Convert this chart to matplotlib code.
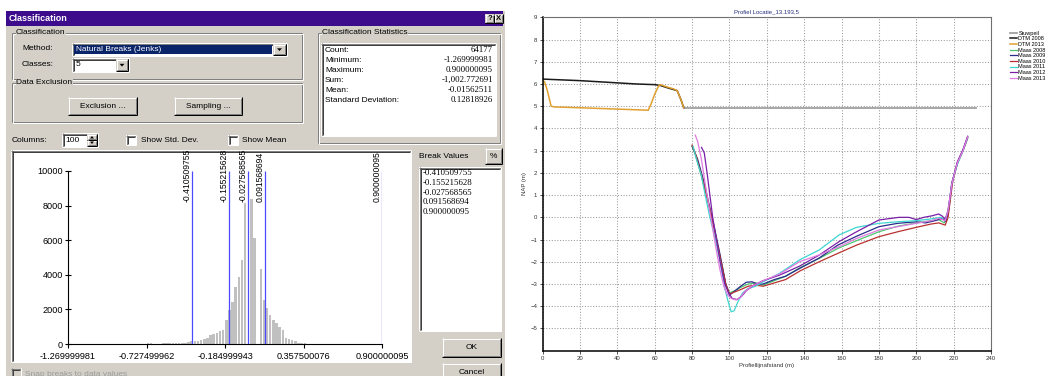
import matplotlib
matplotlib.use("Agg")
import matplotlib.pyplot as plt
from matplotlib.patches import Rectangle, Polygon
from matplotlib.transforms import Bbox, TransformedBbox

plt.rcParams['font.family'] = ['Liberation Sans', 'DejaVu Sans']

W, H = 1048, 376

# ==============================
# DATA - classification dialog
# ==============================
method_name = "Natural Breaks (Jenks)"
n_classes = "5"
n_columns = 100
stat_names = ["Count:", "Minimum:", "Maximum:", "Sum:", "Mean:", "Standard Deviation:"]
stat_values = ["64177", "-1.269999981", "0.900000095", "-1,002.772691", "-0.01562511", "0.12818926"]
break_values = [-0.410509755, -0.155215628, -0.027568565, 0.091568694, 0.900000095]
break_labels = ["-0.410509755", "-0.155215628", "-0.027568565", "0.091568694", "0.900000095"]
hist_min = -1.269999981
hist_max = 0.900000095
first_bin = 25
bin_counts = [30, 30, 20, 0, 20, 40, 40, 50, 50, 50,
              60, 70, 80, 120, 150, 200, 180, 250, 280, 320,
              520, 600, 650, 780, 820, 1380, 1950, 2450, 3300, 3850,
              4850, 8150, 0, 8400, 6150, 0, 4350, 2550, 2100, 1700,
              1400, 1200, 1000, 800, 350, 300, 250, 150, 60, 40, 30]
hist_yticks = [0, 2000, 4000, 6000, 8000, 10000]
hist_xticks = [-1.269999981, -0.727499962, -0.184999943, 0.357500076, 0.900000095]
hist_xlabels = ["-1.269999981", "-0.727499962", "-0.184999943", "0.357500076", "0.900000095"]

# ==============================
# DATA - profile chart
# ==============================
chart_title = "Profiel Locatie_13.193,5"
chart_xticks = [0, 20, 40, 60, 80, 100, 120, 140, 160, 180, 200, 220, 240]
chart_yticks = [-5, -4, -3, -2, -1, 0, 1, 2, 3, 4, 5, 6, 7, 8, 9]

stuw_x = [76, 232]
stuw_y = [4.93, 4.93]

dtm08_x = [0, 20, 40, 50, 60, 63, 66, 70, 72, 74, 75.5]
dtm08_y = [6.22, 6.15, 6.05, 6.0, 5.97, 5.93, 5.85, 5.75, 5.7, 5.3, 4.93]

dtm13_x = [0, 1, 2.5, 4.5, 6, 20, 40, 56.5, 58, 60, 62, 63, 66, 70, 72, 74, 75.5]
dtm13_y = [6.15, 6.1, 5.7, 5.0, 4.97, 4.93, 4.87, 4.82, 5.1, 5.55, 5.9, 5.97, 5.88, 5.78, 5.7, 5.3, 4.93]

maas08_x = [80, 82, 85, 88, 90.5, 93, 95.5, 98, 100, 103, 106, 110, 114, 118, 124, 130, 138, 148,
            158, 168, 180, 190, 200, 208, 212, 215, 217, 219, 222, 225, 227.5]
maas08_y = [3.2, 2.75, 1.85, 0.85, -0.05, -1.0, -2.0, -3.0, -3.4, -3.3, -3.15, -3.0, -2.95, -3.05,
            -2.85, -2.65, -2.25, -1.85, -1.4, -1.05, -0.65, -0.4, -0.25, -0.15, -0.1, -0.25, 0.2,
            1.5, 2.4, 3.0, 3.55]

maas09_x = [80, 83, 86, 89, 92, 95, 98, 100, 103, 106, 109, 112, 115, 118, 124, 130, 138, 148,
            158, 168, 180, 190, 200, 205, 210, 214, 216, 217.5, 219, 222, 225, 227.5]
maas09_y = [3.2, 2.6, 1.7, 0.6, -0.5, -1.7, -3.0, -3.5, -3.3, -3.1, -2.92, -2.9, -3.0, -3.0,
            -2.8, -2.65, -2.28, -1.83, -1.25, -0.85, -0.42, -0.27, -0.2, -0.25, -0.15, -0.05,
            -0.2, 0.4, 1.55, 2.45, 3.0, 3.6]

maas10_x = [80, 82, 85, 88, 90.5, 93, 95.5, 98, 100, 103, 106, 110, 114, 118, 124, 130, 138, 148,
            158, 168, 180, 190, 200, 208, 212, 215.5, 217, 219.5, 222, 225, 227.5]
maas10_y = [3.25, 2.8, 1.9, 0.9, 0.0, -1.0, -2.0, -3.0, -3.45, -3.35, -3.25, -3.1, -3.05, -3.1,
            -2.95, -2.8, -2.4, -2.0, -1.62, -1.25, -0.87, -0.65, -0.45, -0.3, -0.25, -0.35, 0.0,
            1.6, 2.45, 3.0, 3.6]

maas11_x = [80.5, 82, 84.9, 87, 89.5, 92.5, 95, 97.5, 99, 100.9, 102.5, 104.5, 107, 110, 114, 118,
            126.8, 137.4, 148, 158.7, 168, 180, 190, 200, 208, 213, 215.5, 217, 219, 222, 225, 227.5]
maas11_y = [3.2, 2.7, 1.9, 1.0, 0.0, -1.0, -2.0, -3.2, -3.7, -4.25, -4.2, -3.8, -3.4, -3.2, -3.1,
            -2.9, -2.52, -1.92, -1.47, -0.79, -0.45, -0.27, -0.2, -0.15, -0.07, 0.0, -0.1, 0.3,
            1.5, 2.4, 3.0, 3.6]

maas12_x = [85, 86.5, 88, 89.5, 91, 93, 95, 97.5, 99.5, 101.5, 104, 106.5, 109, 113, 118, 126.8,
            137.4, 148, 158.7, 168, 180, 190.7, 196, 200, 204, 208.5, 212, 214, 215.5, 217, 219,
            222, 225, 227.5]
maas12_y = [3.15, 2.9, 2.0, 1.0, 0.0, -1.0, -2.0, -3.0, -3.4, -3.65, -3.7, -3.55, -3.3, -3.05,
            -2.85, -2.6, -2.2, -1.7, -1.09, -0.65, -0.12, 0.0, 0.0, -0.1, 0.0, 0.07, 0.15, 0.05,
            -0.1, 0.3, 1.5, 2.5, 3.05, 3.65]

maas13_x = [81.7, 83, 85, 87, 89, 91, 93, 95, 97, 99, 101, 103.6, 106, 108, 112, 118, 126.8, 137.4,
            148, 158.7, 168, 180, 190, 200, 208, 212, 215.5, 217, 219, 222, 225, 227.5]
maas13_y = [3.7, 3.4, 2.6, 1.5, 0.5, -0.5, -1.5, -2.4, -3.1, -3.5, -3.65, -3.72, -3.6, -3.35,
            -3.1, -2.85, -2.55, -2.0, -1.69, -1.32, -0.95, -0.57, -0.42, -0.27, -0.15, -0.05,
            -0.15, 0.3, 1.5, 2.45, 3.0, 3.62]

# ==============================
# FIGURE + UI CANVAS (pixel coords)
# ==============================
fig = plt.figure(figsize=(W / 100, H / 100), dpi=100)
fig.patch.set_facecolor("white")
ui = fig.add_axes([0, 0, 1, 1])
ui.set_xlim(0, W)
ui.set_ylim(H, 0)
ui.axis("off")

FACE = "#d4d0c8"
DARK = "#808080"
LW = 0.72


def rect(x0, y0, x1, y1, fc, z=1):
    ui.add_patch(Rectangle((x0, y0), x1 - x0, y1 - y0, facecolor=fc, edgecolor="none", zorder=z))


def line(xs, ys, c, z=2):
    ui.plot(xs, ys, color=c, lw=LW, solid_capstyle="butt", zorder=z)


def raised(x0, y0, x1, y1, z=2):
    rect(x0, y0, x1, y1, FACE, z)
    line([x0, x1], [y0 + 0.5, y0 + 0.5], "white", z + 0.1)
    line([x0 + 0.5, x0 + 0.5], [y0, y1], "white", z + 0.1)
    line([x0, x1], [y1 - 0.5, y1 - 0.5], "black", z + 0.1)
    line([x1 - 0.5, x1 - 0.5], [y0, y1], "black", z + 0.1)
    line([x0 + 1, x1 - 1], [y1 - 1.5, y1 - 1.5], DARK, z + 0.1)
    line([x1 - 1.5, x1 - 1.5], [y0 + 1, y1 - 1], DARK, z + 0.1)


def sunken(x0, y0, x1, y1, fc="white", z=2):
    rect(x0, y0, x1, y1, fc, z)
    line([x0, x1], [y0 + 0.5, y0 + 0.5], DARK, z + 0.1)
    line([x0 + 0.5, x0 + 0.5], [y0, y1], DARK, z + 0.1)
    line([x0 + 1, x1 - 1], [y0 + 1.5, y0 + 1.5], "#404040", z + 0.1)
    line([x0 + 1.5, x0 + 1.5], [y0 + 1, y1 - 1], "#404040", z + 0.1)
    line([x0, x1], [y1 - 0.5, y1 - 0.5], "white", z + 0.1)
    line([x1 - 0.5, x1 - 0.5], [y0, y1], "white", z + 0.1)


def group(x0, y0, x1, y1, label):
    for off, c in [(0, DARK), (1, "white")]:
        line([x0 + off, x1 + off], [y0 + off, y0 + off], c)
        line([x0 + off, x1 + off], [y1 + off, y1 + off], c)
        line([x0 + off, x0 + off], [y0 + off, y1 + off], c)
        line([x1 + off, x1 + off], [y0 + off, y1 + off], c)
    ui.text(x0 + 4, y0, label, fontsize=6, va="center", ha="left", zorder=5,
            bbox=dict(facecolor=FACE, edgecolor="none", pad=0.3))


def arrow_down(cx, cy, z=4):
    ui.add_patch(Polygon([[cx - 2.5, cy - 1.2], [cx + 2.5, cy - 1.2], [cx, cy + 1.5]],
                         closed=True, facecolor="black", edgecolor="none", zorder=z))


def label(x, y, s, size=6, **kw):
    ui.text(x, y, s, fontsize=size, va="center", zorder=5, **kw)


# dialog body + title bar
rect(6, 11, 505, H, FACE, 1)
rect(6, 11, 503, 25.5, "#3c0c8c", 2)
label(9, 18.5, "Classification", size=6.5, color="white", fontweight="bold")
for bx, s in [(485, "?"), (494, "X")]:
    raised(bx, 14, bx + 9, 23, 3)
    label(bx + 4.5, 18.7, s, size=5.5, fontweight="bold", ha="center")

# Classification group
group(12, 33, 302, 79, "Classification")
label(22, 49, "Method:")
sunken(72, 43, 287, 56)
rect(74, 45, 272, 54, "#0a246a", 3)
label(76, 49.5, method_name, color="white")
raised(273, 44, 286, 55, 3)
arrow_down(279.5, 49.5)
label(22, 65, "Classes:")
sunken(72, 58, 129, 72)
label(76, 65, n_classes)
raised(116, 59, 128, 71, 3)
arrow_down(122, 65)

# Data exclusion group
group(12, 83, 302, 122, "Data Exclusion")
raised(68, 97, 137, 115)
label(102.5, 106, "Exclusion ...", ha="center")
raised(174, 97, 242, 115)
label(208, 106, "Sampling ...", ha="center")

# Statistics group
group(318, 33, 500, 143, "Classification Statistics")
sunken(321, 43, 496, 136)
for k, (nm, val) in enumerate(zip(stat_names, stat_values)):
    yy = 50 + k * 10.1
    label(325, yy, nm)
    label(493, yy, val, size=6.3, ha="right", family="Liberation Serif")

# Columns row
label(12, 140, "Columns:")
sunken(62, 133, 98, 147)
label(65, 140, str(n_columns))
raised(87, 134, 97, 140, 3)
raised(87, 140, 97, 146, 3)
ui.add_patch(Polygon([[90, 138.5], [94, 138.5], [92, 136]], facecolor="black", zorder=4))
ui.add_patch(Polygon([[90, 141.5], [94, 141.5], [92, 144]], facecolor="black", zorder=4))
sunken(126, 135, 136, 145)
label(141, 140, "Show Std. Dev.")
sunken(228, 135, 238, 145)
label(242, 140, "Show Mean")

# Histogram panel
sunken(11, 150, 411, 362)

# Break values list
label(419, 157, "Break Values")
raised(485, 148, 502, 164)
label(493.5, 156, "%", ha="center")
sunken(419, 167, 501, 331)
for k, s in enumerate(break_labels):
    label(423, 173 + k * 9.8, s, size=6.3, family="Liberation Serif")

# OK / Cancel
raised(442, 338, 501, 357)
label(471.5, 347.5, "OK", ha="center")
raised(442, 363, 501, 383)
label(471.5, 372.5, "Cancel", ha="center")

# Snap breaks checkbox (disabled)
sunken(11, 368, 21, 378, fc=FACE)
label(25, 374, "Snap breaks to data values", color="#9a9a9a")

# ==============================
# HISTOGRAM
# ==============================
panel_clip = TransformedBbox(Bbox.from_extents(12 / W, 1 - 361 / H, 410 / W, 1 - 151 / H),
                             fig.transFigure)

hx = fig.add_axes([68 / W, 1 - 344 / H, (382 - 68) / W, (344 - 171) / H])
hx.patch.set_visible(False)
hx.set_xlim(hist_min, hist_max)
hx.set_ylim(0, 10000)
bw = (hist_max - hist_min) / n_columns
lefts = [hist_min + (first_bin + k) * bw for k in range(len(bin_counts))]
hx.bar(lefts, bin_counts, width=bw * 0.8, align="edge", color="#c0c0c0", zorder=2)
hx.vlines(break_values, 0, 10000, color="#4a4aff", lw=0.9, zorder=3)
for v, s in zip(break_values, break_labels):
    t = hx.text(v - 0.004, 8200, s, rotation=90, ha="right", va="bottom",
                fontsize=6.2, clip_on=True, zorder=4)
    t.set_clip_box(panel_clip)

for side in ["top", "right"]:
    hx.spines[side].set_visible(False)
for side in ["left", "bottom"]:
    hx.spines[side].set_linewidth(0.8)
hx.set_yticks(hist_yticks)
hx.set_yticklabels([str(v) for v in hist_yticks])
hx.set_xticks(hist_xticks)
hx.set_xticklabels([])
hx.tick_params(axis="y", direction="inout", length=5, width=0.8, labelsize=6.6, pad=1)
hx.tick_params(axis="x", direction="out", length=3, width=0.8)
for v, s in zip(hist_xticks, hist_xlabels):
    t = hx.text(v, -0.075, s, transform=hx.get_xaxis_transform(), ha="center", va="center",
                fontsize=6.6, clip_on=True)
    t.set_clip_box(panel_clip)

# ==============================
# PROFILE CHART
# ==============================
ax = fig.add_axes([542.7 / W, 1 - 350.7 / H, (991 - 542.7) / W, (350.7 - 17.3) / H])
ax.set_facecolor("white")
ax.plot(stuw_x, stuw_y, color="#a0a0a0", lw=1.3, label="Stuwpeil")
ax.plot(dtm08_x, dtm08_y, color="#1a1a1a", lw=1.1, label="DTM 2008")
ax.plot(dtm13_x, dtm13_y, color="#e0a030", lw=1.1, label="DTM 2013")
ax.plot(maas08_x, maas08_y, color="#4cc870", lw=0.9, label="Maas 2008")
ax.plot(maas09_x, maas09_y, color="#2a2a8a", lw=0.9, label="Maas 2009")
ax.plot(maas10_x, maas10_y, color="#b83030", lw=0.9, label="Maas 2010")
ax.plot(maas11_x, maas11_y, color="#3ed6d0", lw=0.9, label="Maas 2011")
ax.plot(maas12_x, maas12_y, color="#7a1fa8", lw=0.9, label="Maas 2012")
ax.plot(maas13_x, maas13_y, color="#e07ae0", lw=0.9, label="Maas 2013")

ax.set_xlim(0, 240)
ax.set_ylim(-6, 9)
ax.set_xticks(chart_xticks)
ax.set_yticks(chart_yticks)
ax.grid(True, color="#9c9c9c", linestyle=":", linewidth=0.75)
ax.set_axisbelow(True)
for side in ["left", "bottom"]:
    ax.spines[side].set_color("black")
    ax.spines[side].set_linewidth(1.1)
for side in ["top", "right"]:
    ax.spines[side].set_color("#707070")
    ax.spines[side].set_linewidth(0.8)
ax.tick_params(labelsize=4.3, colors="#333333", length=2, width=0.6, pad=2)
ax.set_title(chart_title, fontsize=4.3, color="#283080", pad=3)
ax.set_xlabel("Profiellijnafstand (m)", fontsize=4.3, color="#333333", labelpad=1)
ax.set_ylabel("NAP (m)", fontsize=4.3, color="#333333", labelpad=2)

ax.legend(loc="upper left", bbox_to_anchor=(1010 / W, 1 - 30.5 / H),
          bbox_transform=fig.transFigure, frameon=False, fontsize=4,
          handlelength=1.2, handletextpad=0.3, labelspacing=0.12,
          borderpad=0, borderaxespad=0)

fig.savefig("out.png", dpi=100, facecolor="white")
